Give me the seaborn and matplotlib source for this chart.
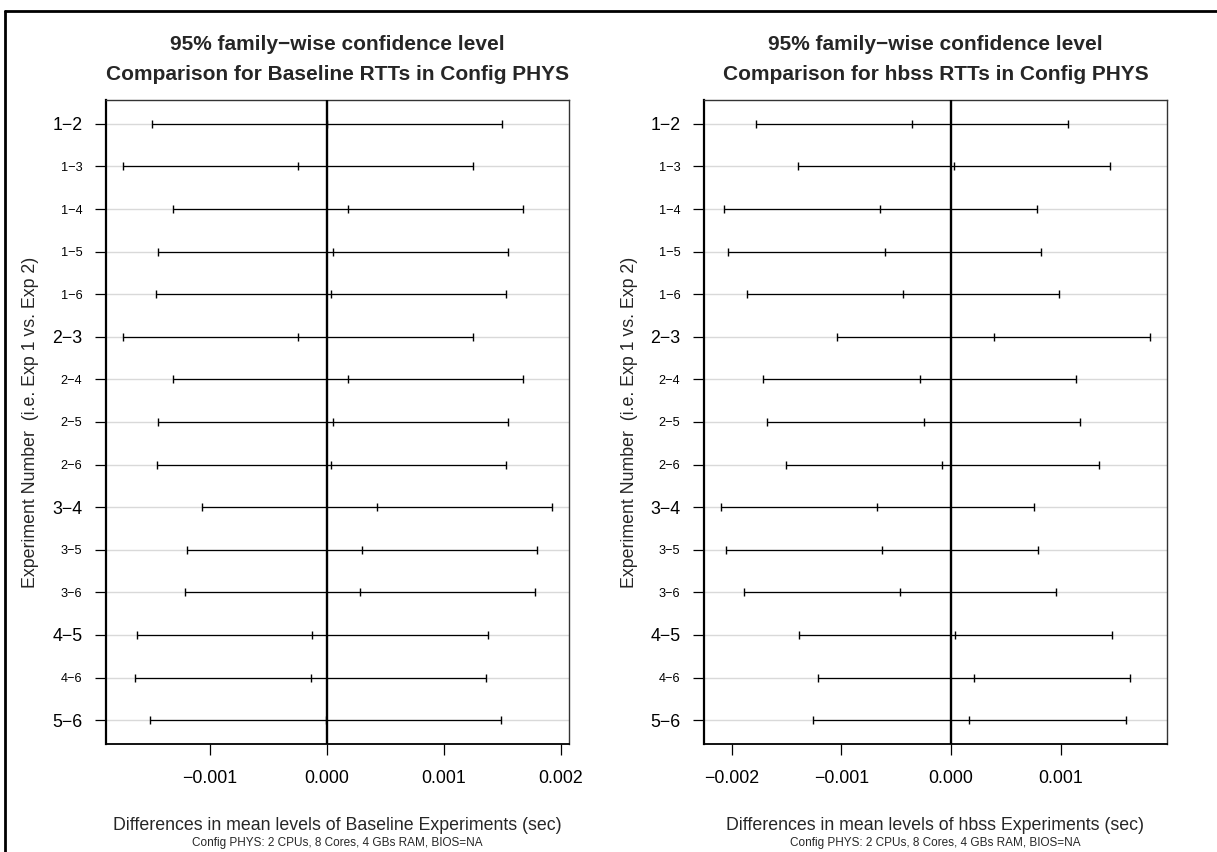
import numpy as np
import pandas as pd
import matplotlib
matplotlib.use("Agg")
import matplotlib.pyplot as plt
from matplotlib.lines import Line2D
from matplotlib.ticker import FixedLocator, FuncFormatter
import seaborn as sns

# Pairwise comparisons of experiments (Tukey HSD)
comparisons = ["1−2", "1−3", "1−4", "1−5", "1−6", "2−3", "2−4", "2−5", "2−6",
               "3−4", "3−5", "3−6", "4−5", "4−6", "5−6"]
major_labels = {"1−2", "2−3", "3−4", "4−5", "5−6"}

# Baseline experiments: lower bound, difference, upper bound (sec)
base_lwr = [-1.490e-3, -1.741e-3, -1.316e-3, -1.442e-3, -1.459e-3, -1.738e-3, -1.313e-3,
            -1.440e-3, -1.453e-3, -1.068e-3, -1.194e-3, -1.208e-3, -1.621e-3, -1.636e-3,
            -1.510e-3]
base_diff = [0.003e-3, -0.245e-3, 0.179e-3, 0.051e-3, 0.037e-3, -0.242e-3, 0.179e-3,
             0.054e-3, 0.040e-3, 0.427e-3, 0.302e-3, 0.288e-3, -0.123e-3, -0.137e-3,
             -0.006e-3]
base_upr = [1.496e-3, 1.250e-3, 1.675e-3, 1.547e-3, 1.533e-3, 1.250e-3, 1.675e-3,
            1.550e-3, 1.535e-3, 1.926e-3, 1.800e-3, 1.783e-3, 1.376e-3, 1.362e-3,
            1.487e-3]

# hbss experiments: lower bound, difference, upper bound (sec)
hbss_lwr = [-1.780e-3, -1.395e-3, -2.072e-3, -2.033e-3, -1.862e-3, -1.036e-3, -1.714e-3,
            -1.675e-3, -1.504e-3, -2.097e-3, -2.057e-3, -1.887e-3, -1.389e-3, -1.215e-3,
            -1.255e-3]
hbss_diff = [-0.356e-3, 0.030e-3, -0.644e-3, -0.605e-3, -0.437e-3, 0.389e-3, -0.286e-3,
             -0.246e-3, -0.079e-3, -0.672e-3, -0.632e-3, -0.465e-3, 0.040e-3, 0.207e-3,
             0.167e-3]
hbss_upr = [1.070e-3, 1.452e-3, 0.781e-3, 0.820e-3, 0.985e-3, 1.814e-3, 1.142e-3,
            1.179e-3, 1.346e-3, 0.754e-3, 0.793e-3, 0.957e-3, 1.468e-3, 1.632e-3,
            1.595e-3]

base_xticks = [-0.001, 0.0, 0.001, 0.002]
hbss_xticks = [-0.002, -0.001, 0.0, 0.001]

sns.set_style("white")
plt.rcParams["font.family"] = ["Liberation Sans", "DejaVu Sans"]

W, H = 1217, 852
fig = plt.figure(figsize=(W / 100, H / 100), dpi=100)

BASE = 12.8


def px(x, y):
    return x / W, 1 - y / H


def panel(left_px, lwr, diff, upr, xticks, name):
    top, bottom = 100, 744
    width = 463
    ax = fig.add_axes([left_px / W, 1 - bottom / H, width / W, (bottom - top) / H])
    df = pd.DataFrame({"comp": comparisons, "lwr": lwr, "diff": diff, "upr": upr})
    df["pos"] = np.arange(len(df))

    # light reference lines for each comparison
    for p in df["pos"]:
        ax.axhline(p, color="#d9d9d9", lw=1.0, zorder=0)

    ax.hlines(df["pos"], df["lwr"], df["upr"], color="black", lw=0.9, zorder=2)
    long = df.melt(id_vars=["comp", "pos"], value_vars=["lwr", "diff", "upr"],
                   var_name="kind", value_name="value")
    sns.scatterplot(data=long, x="value", y="pos", marker="|", s=36, color="black",
                    linewidth=1.0, ax=ax, legend=False, zorder=3)
    ax.axvline(0, color="black", lw=1.7, zorder=4)

    lo = min(lwr)
    hi = max(upr)
    pad = 0.04 * (hi - lo)
    ax.set_xlim(lo - pad, hi + pad)
    n = len(comparisons)
    ax.set_ylim(n - 1 + 0.04 * (n - 1), -0.04 * (n - 1))

    ax.xaxis.set_major_locator(FixedLocator(xticks))
    ax.xaxis.set_major_formatter(FuncFormatter(lambda v, _: f"{v:.3f}".replace("-", "−")))
    ax.set_yticks(df["pos"])
    ax.set_yticklabels(comparisons)
    for lab in ax.get_yticklabels():
        lab.set_fontsize(BASE if lab.get_text() in major_labels else 9.2)
        lab.set_color("black")
    ax.tick_params(axis="x", length=8, width=0.9, pad=11, labelsize=BASE, colors="black",
                   bottom=True)
    ax.tick_params(axis="y", length=8, width=0.9, pad=9, colors="black", left=True)
    ax.set_xlabel("")
    ax.set_ylabel("")
    for s in ax.spines.values():
        s.set_color("#333333")
        s.set_linewidth(1.0)
    ax.spines["left"].set_color("black")
    ax.spines["left"].set_linewidth(1.6)
    ax.spines["bottom"].set_color("black")
    ax.spines["bottom"].set_linewidth(1.3)

    cx = left_px + width / 2
    fig.text(*px(cx, 45), "95% family−wise confidence level", ha="center", va="center",
             fontsize=15, fontweight="bold")
    fig.text(*px(cx, 74), f"Comparison for {name} RTTs in Config PHYS", ha="center",
             va="center", fontsize=15, fontweight="bold")
    fig.text(*px(cx, 826), f"Differences in mean levels of {name} Experiments (sec)",
             ha="center", va="center", fontsize=BASE)
    fig.text(*px(cx, 843), "Config PHYS: 2 CPUs, 8 Cores, 4 GBs RAM, BIOS=NA",
             ha="center", va="center", fontsize=8.5)
    fig.text(*px(left_px - 75, 422), "Experiment Number  (i.e. Exp 1 vs. Exp 2)",
             ha="center", va="center", rotation=90, fontsize=BASE)
    return ax


panel(106, base_lwr, base_diff, base_upr, base_xticks, "Baseline")
panel(704, hbss_lwr, hbss_diff, hbss_upr, hbss_xticks, "hbss")

# outer frame along the left and top edges
fig.add_artist(Line2D([4.5 / W, 4.5 / W], [0, 1 - 11 / H], color="black", lw=2.0))
fig.add_artist(Line2D([4.5 / W, 1], [1 - 11 / H, 1 - 11 / H], color="black", lw=2.0))

fig.savefig("out.png", dpi=100, facecolor="white")
